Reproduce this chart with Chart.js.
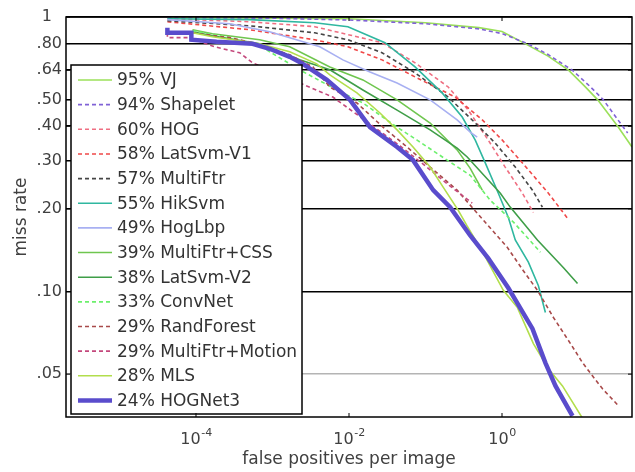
<!DOCTYPE html>
<html>
<head>
<meta charset="utf-8">
<script src="https://cdn.jsdelivr.net/npm/chart.js@4.4.1/dist/chart.umd.min.js"></script>
<style>
html, body { margin: 0; padding: 0; background: #fff; }
canvas { display: block; }
</style>
</head>
<body>
<canvas id="roc" width="635" height="472"></canvas>
<script>
// axis ticks
const fppiTicks = [1e-4, 1e-2, 1];
const fppiTickBase = '10';
const fppiTickExps = ['-4', '-2', '0'];
const missTicks = [0.05, 0.1, 0.2, 0.3, 0.4, 0.5, 0.64, 0.8, 1];
const missTickLabels = ['.05', '.10', '.20', '.30', '.40', '.50', '.64', '.80', '1  '];

const methods = ['95% VJ', '94% Shapelet', '60% HOG', '58% LatSvm-V1', '57% MultiFtr',
    '55% HikSvm', '49% HogLbp', '39% MultiFtr+CSS', '38% LatSvm-V2', '33% ConvNet',
    '29% RandForest', '29% MultiFtr+Motion', '28% MLS', '24% HOGNet3'];

// curves as [fppi, miss rate]
const vj = [[4.23e-5, 0.998], [1e-3, 0.99], [0.01, 0.985], [0.1, 0.953], [0.5, 0.915], [1, 0.885],
    [2, 0.80], [4, 0.72], [7.4, 0.64], [12, 0.56], [17.7, 0.50], [32.5, 0.40], [50, 0.336]];
const shapelet = [[4.23e-5, 0.995], [1e-3, 0.99], [0.01, 0.975], [0.1, 0.945], [0.5, 0.905], [1, 0.87],
    [2.15, 0.80], [4, 0.73], [8.3, 0.64], [14, 0.56], [21, 0.50], [37.7, 0.40], [43.9, 0.378]];
const hog = [[4.23e-5, 0.986], [5.0e-4, 0.961], [3.57e-3, 0.922], [0.027, 0.806], [0.073, 0.681],
    [0.198, 0.556], [0.362, 0.458], [0.661, 0.356], [1.10, 0.284], [1.85, 0.228], [2.57, 0.194]];
const latSvmV1 = [[4.23e-5, 0.961], [5.0e-4, 0.899], [3.57e-3, 0.826], [9.68e-3, 0.779], [0.027, 0.698],
    [0.073, 0.605], [0.244, 0.511], [0.552, 0.422], [1.01, 0.356], [1.85, 0.294], [4.04, 0.228], [7.17, 0.185]];
const multiFtr = [[4.23e-5, 0.969], [5.0e-4, 0.929], [3.57e-3, 0.876], [9.68e-3, 0.826], [0.027, 0.741],
    [0.073, 0.626], [0.198, 0.511], [0.447, 0.411], [0.817, 0.347], [1.49, 0.284], [2.50, 0.234], [3.37, 0.203]];
const hikSvm = [[4.23e-5, 0.986], [5.0e-4, 0.978], [3.57e-3, 0.953], [9.68e-3, 0.922], [0.0295, 0.806],
    [0.073, 0.658], [0.165, 0.529], [0.302, 0.432], [0.447, 0.356], [0.604, 0.294], [0.895, 0.228],
    [1.21, 0.186], [1.49, 0.154], [2.21, 0.128], [2.99, 0.105], [3.69, 0.0838]];
const hogLbp = [[4.23e-5, 0.978], [2.75e-4, 0.945], [9.18e-4, 0.884], [4.16e-3, 0.779], [8.32e-3, 0.698],
    [0.0188, 0.631], [0.0425, 0.575], [0.115, 0.499], [0.259, 0.422], [0.384, 0.381], [0.474, 0.365]];
const multiFtrCss = [[9.0e-5, 0.899], [1.64e-4, 0.869], [6.79e-4, 0.826], [1.68e-3, 0.779], [5.62e-3, 0.658],
    [0.0152, 0.590], [0.0425, 0.499], [0.115, 0.411], [0.259, 0.328], [0.384, 0.281], [0.552, 0.234]];
const latSvmV2 = [[9.0e-5, 0.884], [1.64e-4, 0.855], [6.79e-4, 0.799], [2.27e-3, 0.698], [5.62e-3, 0.642],
    [0.0152, 0.542], [0.0425, 0.458], [0.115, 0.388], [0.259, 0.333], [0.351, 0.309], [0.951, 0.228],
    [1.28, 0.203], [2.90, 0.154], [6.36, 0.122], [9.70, 0.107]];
const convNet = [[9.0e-5, 0.891], [2.75e-4, 0.841], [6.79e-4, 0.786], [2.27e-3, 0.642], [6.15e-3, 0.552],
    [0.0152, 0.486], [0.0425, 0.397], [0.0776, 0.356], [0.192, 0.301], [0.384, 0.265], [0.703, 0.215],
    [1.41, 0.179], [3.18, 0.139]];
const randForest = [[9.0e-5, 0.876], [2.75e-4, 0.841], [5.5e-4, 0.806], [9.18e-4, 0.773], [1.68e-3, 0.728],
    [3.37e-3, 0.658], [5.62e-3, 0.556], [0.0127, 0.486], [0.0278, 0.397], [0.054, 0.341], [0.115, 0.284],
    [0.259, 0.234], [0.474, 0.193], [1.17, 0.145], [1.90, 0.119], [2.90, 0.101], [4.70, 0.0804],
    [7.85, 0.0646], [11.3, 0.055], [15.2, 0.0493], [20.6, 0.0442], [33.4, 0.0383]];
const multiFtrMotion = [[4.23e-5, 0.876], [4.23e-5, 0.841], [8.2e-5, 0.841], [1.75e-4, 0.779], [3.72e-4, 0.741],
    [5.5e-4, 0.681], [9.18e-4, 0.642], [2.27e-3, 0.575], [6.15e-3, 0.511], [0.0172, 0.415], [0.0465, 0.339],
    [0.0931, 0.291], [0.210, 0.242], [0.408, 0.210]];
const mls = [[9.0e-5, 0.876], [1.64e-4, 0.847], [6.79e-4, 0.799], [1.68e-3, 0.747], [3.79e-3, 0.675],
    [5.62e-3, 0.615], [0.0127, 0.529], [0.0254, 0.447], [0.0425, 0.388], [0.0687, 0.336], [0.115, 0.284],
    [0.170, 0.240], [0.267, 0.198], [0.351, 0.173], [0.569, 0.138], [1.04, 0.101], [1.59, 0.0874],
    [2.57, 0.0646], [4.04, 0.0523], [6.17, 0.0453], [11.3, 0.0345]];
const hogNet3 = [[4.23e-5, 0.914], [4.23e-5, 0.876], [8.7e-5, 0.876], [8.7e-5, 0.826], [1.86e-4, 0.812],
    [5.5e-4, 0.799], [9.18e-4, 0.766], [1.68e-3, 0.716], [2.49e-3, 0.675], [5.13e-3, 0.590], [0.0103, 0.499],
    [0.0188, 0.397], [0.0425, 0.336], [0.0687, 0.301], [0.126, 0.234], [0.210, 0.203], [0.384, 0.160],
    [0.661, 0.132], [1.21, 0.103], [2.50, 0.0732], [3.69, 0.055], [5.00, 0.0453], [8.34, 0.0352]];

const curves = [vj, shapelet, hog, latSvmV1, multiFtr, hikSvm, hogLbp, multiFtrCss, latSvmV2,
    convNet, randForest, multiFtrMotion, mls, hogNet3];

const styles = [
    { color: '#9be05a' },
    { color: '#8062d6', dash: [4, 3] },
    { color: '#ef6f82', dash: [4, 3] },
    { color: '#f04848', dash: [4, 3] },
    { color: '#454545', dash: [4, 3] },
    { color: '#2fb7a0' },
    { color: '#a8b0f2' },
    { color: '#6fc64f' },
    { color: '#3f9e48' },
    { color: '#6cf06c', dash: [4, 3] },
    { color: '#a84a4a', dash: [4, 3] },
    { color: '#c4487c', dash: [4, 3] },
    { color: '#b2de4c' },
    { color: '#5a4ccc', width: 4.5 },
];

const FONT = '"DejaVu Sans", sans-serif';

const datasets = curves.map((pts, i) => ({
    label: methods[i],
    data: pts.map(([x, y]) => ({ x: x, y: y })),
    borderColor: styles[i].color,
    backgroundColor: styles[i].color,
    borderWidth: styles[i].width || 1.6,
    borderDash: styles[i].dash || [],
    pointRadius: 0,
    fill: false,
    tension: 0,
    order: -i, // later methods on top, HOGNet3 last
}));

// legend box drawn inside the plot, over the curves
const legendBox = {
    id: 'legendBox',
    afterDatasetsDraw(chart) {
        const ctx = chart.ctx;
        const x0 = 71, y0 = 65, x1 = 302, y1 = 414;
        ctx.save();
        ctx.fillStyle = '#fff';
        ctx.fillRect(x0, y0, x1 - x0, y1 - y0);
        ctx.strokeStyle = '#000';
        ctx.lineWidth = 1.5;
        ctx.strokeRect(x0, y0, x1 - x0, y1 - y0);
        ctx.font = '17px ' + FONT;
        ctx.textBaseline = 'middle';
        chart.data.datasets.forEach((ds, i) => {
            const y = 80 + i * 24.65;
            ctx.strokeStyle = ds.borderColor;
            ctx.lineWidth = ds.borderWidth;
            ctx.setLineDash(ds.borderDash);
            ctx.beginPath();
            ctx.moveTo(78, y);
            ctx.lineTo(112, y);
            ctx.stroke();
            ctx.setLineDash([]);
            ctx.fillStyle = '#333';
            ctx.fillText(ds.label, 117, y + 1);
        });
        ctx.restore();
    }
};

// box around the axes with short inward tick marks
const frame = {
    id: 'frame',
    afterDatasetsDraw(chart) {
        const { ctx, chartArea: a, scales } = chart;
        const seg = (x1, y1, x2, y2) => { ctx.beginPath(); ctx.moveTo(x1, y1); ctx.lineTo(x2, y2); ctx.stroke(); };
        ctx.save();
        ctx.strokeStyle = '#000';
        ctx.lineWidth = 1.5;
        ctx.strokeRect(a.left, a.top, a.right - a.left, a.bottom - a.top);
        ctx.lineWidth = 1;
        fppiTicks.forEach(v => {
            const x = scales.x.getPixelForValue(v);
            seg(x, a.bottom, x, a.bottom - 4);
            seg(x, a.top, x, a.top + 4);
        });
        missTicks.forEach(v => {
            const y = scales.y.getPixelForValue(v);
            seg(a.left, y, a.left + 4, y);
            seg(a.right, y, a.right - 4, y);
        });
        ctx.restore();
    }
};

// x tick labels as 10 with a raised exponent
const powerLabels = {
    id: 'powerLabels',
    afterDraw(chart) {
        const { ctx, chartArea: a, scales } = chart;
        ctx.save();
        ctx.fillStyle = '#404040';
        ctx.textBaseline = 'alphabetic';
        ctx.textAlign = 'left';
        fppiTicks.forEach((v, i) => {
            const x = scales.x.getPixelForValue(v);
            ctx.font = '16px ' + FONT;
            const wb = ctx.measureText(fppiTickBase).width;
            ctx.font = '11px ' + FONT;
            const we = ctx.measureText(fppiTickExps[i]).width;
            const start = x - (wb + we) / 2;
            ctx.font = '16px ' + FONT;
            ctx.fillText(fppiTickBase, start, a.bottom + 27);
            ctx.font = '11px ' + FONT;
            ctx.fillText(fppiTickExps[i], start + wb + 0.5, a.bottom + 19);
        });
        ctx.restore();
    }
};

new Chart(document.getElementById('roc'), {
    type: 'line',
    data: { datasets: datasets },
    plugins: [legendBox, frame, powerLabels],
    options: {
        responsive: false,
        animation: false,
        layout: { padding: { top: 17, right: 3, left: 0, bottom: 0 } },
        plugins: {
            legend: { display: false },
            tooltip: { enabled: false },
        },
        scales: {
            x: {
                type: 'logarithmic',
                min: 2e-6,
                max: 50,
                afterBuildTicks: s => { s.ticks = fppiTicks.map(v => ({ value: v })); },
                afterFit: s => { s.height = 55; },
                ticks: { display: false },
                grid: { display: false },
                border: { display: false },
                title: {
                    display: true,
                    text: 'false positives per image',
                    color: '#404040',
                    font: { family: FONT, size: 17 },
                    padding: { top: 0, bottom: 2 },
                },
            },
            y: {
                type: 'logarithmic',
                min: 0.0349,
                max: 1,
                afterBuildTicks: s => { s.ticks = missTicks.map(v => ({ value: v })); },
                afterFit: s => { s.width = 66; },
                ticks: {
                    callback: (v, i) => missTickLabels[i],
                    color: '#404040',
                    font: { family: FONT, size: 16 },
                    padding: 4,
                    autoSkip: false,
                },
                grid: {
                    drawTicks: false,
                    lineWidth: 1.6,
                    color: c => (c.tick && c.tick.value === 0.05) ? '#b4b4b4' : '#000',
                },
                border: { display: false },
                title: {
                    display: true,
                    text: 'miss rate',
                    color: '#404040',
                    font: { family: FONT, size: 17 },
                    padding: { top: 11, bottom: 0 },
                },
            },
        },
    },
});
</script>
</body>
</html>
